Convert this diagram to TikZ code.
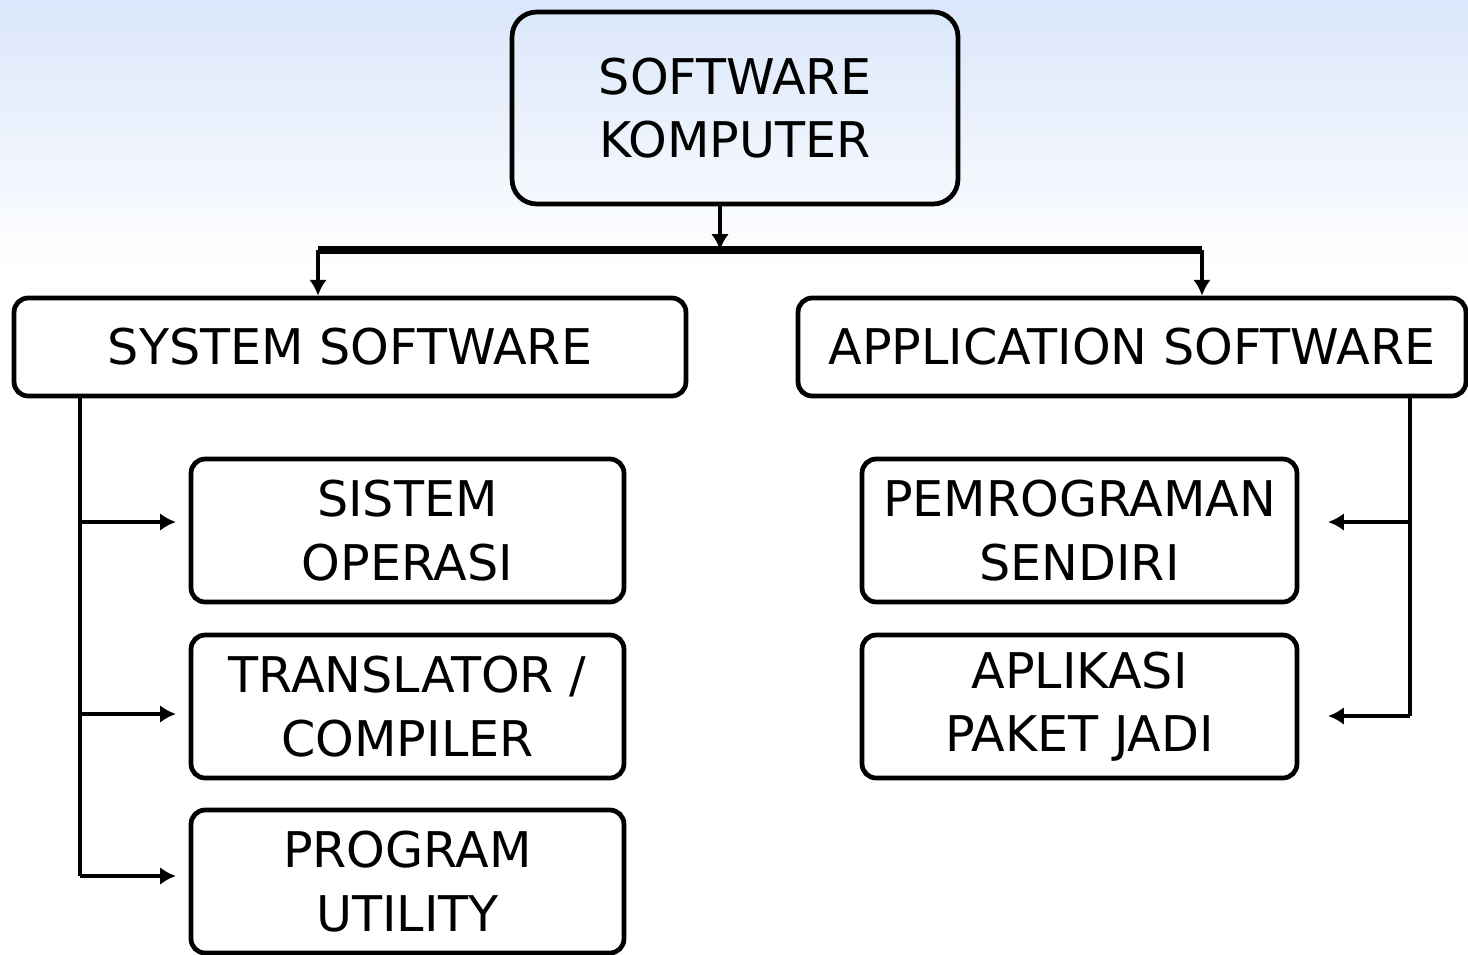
\documentclass[tikz,border=0pt]{standalone}
\usepackage{fontspec}
\setmainfont{DejaVu Sans}
\usetikzlibrary{arrows.meta}
\definecolor{bgblue}{RGB}{218,230,250}
\tikzset{
  box/.style={draw, line width=2.7pt, rounded corners=8pt, fill=white, align=center,
              inner sep=0pt, font=\fontsize{28}{36}\selectfont},
  link/.style={line width=2.6pt, -{Latex[length=9pt,width=10pt]}},
}
\begin{document}
\begin{tikzpicture}[x=0.02cm, y=-0.02cm]
  \useasboundingbox (0,0) rectangle (1468,954);
  \fill[white] (0,0) rectangle (1468,954);
  \shade[top color=bgblue, bottom color=white] (0,0) rectangle (1468,270);
  % boxes
  \node[box, fill=none, rounded corners=14pt, minimum width=8.92cm, minimum height=3.84cm] (soft) at (735,108) {SOFTWARE\\KOMPUTER};
  \node[box, minimum width=13.44cm, minimum height=1.96cm] (sys) at (350,347) {SYSTEM SOFTWARE};
  \node[box, minimum width=13.36cm, minimum height=1.96cm] (app) at (1132,347) {APPLICATION SOFTWARE};
  \node[box, minimum width=8.66cm, minimum height=2.86cm] (os) at (407.5,530.5) {SISTEM\\OPERASI};
  \node[box, minimum width=8.66cm, minimum height=2.86cm] (trans) at (407.5,706.5) {TRANSLATOR /\\COMPILER};
  \node[box, minimum width=8.66cm, minimum height=2.86cm] (util) at (407.5,881.5) {PROGRAM\\UTILITY};
  \node[box, minimum width=8.7cm, minimum height=2.86cm] (prog) at (1079.5,530.5) {PEMROGRAMAN\\SENDIRI};
  \node[box, minimum width=8.7cm, minimum height=2.86cm] (paket) at (1079.5,706.5) {APLIKASI\\PAKET JADI};
  % bus
  \coordinate (bus) at (720,250);
  \coordinate (busL) at (318,250);
  \coordinate (busR) at (1202,250);
  \draw[link] (soft.south -| bus) -- (bus);
  \draw[line width=4.5pt] (busL) -- (busR);
  \draw[link] (busL) -- (sys.north -| busL);
  \draw[link] (busR) -- (app.north -| busR);
  % system software branches
  \coordinate (sL) at (80,396);
  \coordinate (os in) at (176,522);
  \coordinate (trans in) at (176,714);
  \coordinate (util in) at (176,876);
  \draw[line width=2.6pt] (sL) |- (util in -| sL);
  \draw[link] (os in -| sL) -- (os in);
  \draw[link] (trans in -| sL) -- (trans in);
  \draw[link] (util in -| sL) -- (util in);
  % application software branches
  \coordinate (aR) at (1410,396);
  \coordinate (prog in) at (1328,522);
  \coordinate (paket in) at (1328,716);
  \draw[line width=2.6pt] (aR) -- (paket in -| aR);
  \draw[link] (prog in -| aR) -- (prog in);
  \draw[link] (paket in -| aR) -- (paket in);
\end{tikzpicture}
\end{document}
